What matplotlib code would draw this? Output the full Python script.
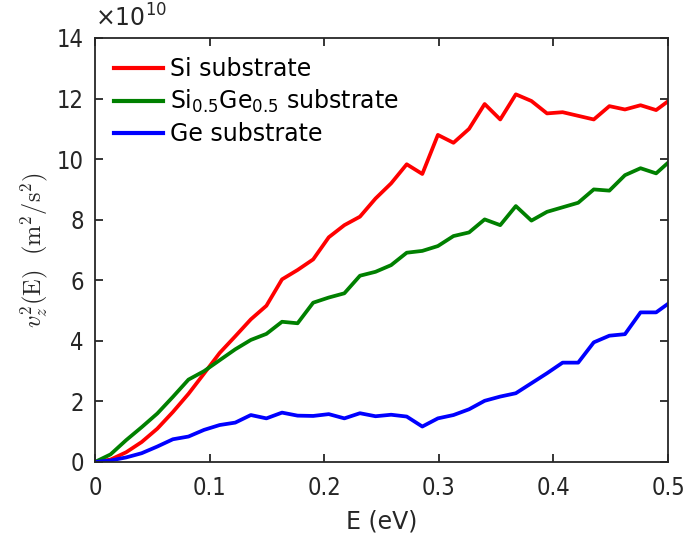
import numpy as np
import matplotlib
matplotlib.use('Agg')
import matplotlib.pyplot as plt

plt.rcParams['font.family'] = 'DejaVu Sans'
plt.rcParams['mathtext.fontset'] = 'dejavusans'

# energy grid (eV), data runs slightly past the plotted range
dE = 0.0136
E = np.arange(38) * dE

# v_z^2 in units of 1e10 m^2/s^2
v2_si = [0, 0.08, 0.32, 0.66, 1.1, 1.65, 2.25, 2.92, 3.6, 4.15, 4.71,
         5.16, 6.03, 6.34, 6.69, 7.42, 7.82, 8.10, 8.7, 9.2, 9.83,
         9.51, 10.80, 10.54, 11.0, 11.82, 11.31, 12.14, 11.92, 11.51, 11.55,
         11.43, 11.31, 11.75, 11.64, 11.78, 11.62, 12.0]
v2_sige = [0, 0.25, 0.72, 1.15, 1.6, 2.15, 2.72, 3.0, 3.36, 3.72, 4.03,
           4.23, 4.63, 4.58, 5.26, 5.43, 5.57, 6.15, 6.28, 6.5, 6.91,
           6.97, 7.13, 7.46, 7.58, 8.01, 7.82, 8.45, 7.97, 8.26, 8.41,
           8.56, 9.0, 8.96, 9.47, 9.70, 9.53, 9.99]
v2_ge = [0, 0.05, 0.15, 0.29, 0.51, 0.75, 0.84, 1.06, 1.22, 1.3, 1.55,
         1.44, 1.63, 1.53, 1.52, 1.58, 1.44, 1.61, 1.51, 1.56, 1.50,
         1.17, 1.44, 1.55, 1.74, 2.02, 2.16, 2.27, 2.60, 2.93, 3.28,
         3.28, 3.95, 4.17, 4.22, 4.94, 4.94, 5.31]

x_ticks = [0, 0.1, 0.2, 0.3, 0.4, 0.5]
x_ticklabels = ['0', '0.1', '0.2', '0.3', '0.4', '0.5']
y_ticks = [0, 2, 4, 6, 8, 10, 12, 14]

fig = plt.figure(figsize=(6.88, 5.39), dpi=100)
ax = fig.add_axes([0.138, 0.1429, 0.833, 0.7866])

lw = 2.7
ax.plot(E, v2_si, color=(1, 0, 0), lw=lw, label='Si substrate')
ax.plot(E, v2_sige, color=(0, 0.5, 0), lw=lw,
        label='Si$_{0.5}$Ge$_{0.5}$ substrate')
ax.plot(E, v2_ge, color=(0, 0, 1), lw=lw, label='Ge substrate')

ax.set_xlim(0, 0.5)
ax.set_ylim(0, 14)
ax.set_xticks(x_ticks)
ax.set_xticklabels(x_ticklabels)
ax.set_yticks(y_ticks)

dark = '#262626'
for sp in ax.spines.values():
    sp.set_color(dark)
    sp.set_linewidth(1.3)
ax.tick_params(direction='in', length=6, width=1.3, colors=dark,
               labelsize=17, top=True, right=True, pad=8)
ax.tick_params(axis='x', pad=10)
for lab in ax.get_xticklabels() + ax.get_yticklabels():
    lab.set_fontstretch('condensed')

# exponent shown above the y axis
ax.text(0.0, 1.015, r'$\times10^{10}$', transform=ax.transAxes,
        fontsize=17, color=dark, ha='left', va='bottom')

ax.set_xlabel('E (eV)', fontsize=17, color=dark, labelpad=7)
ax.set_ylabel(r'$v_z^2(\mathrm{E})\ \ (\mathrm{m}^2/\mathrm{s}^2)$', fontsize=17.5,
              color=dark, math_fontfamily='cm', labelpad=5)

leg = ax.legend(loc='upper left', frameon=False, fontsize=17, handlelength=2.1,
                handletextpad=0.3, labelspacing=0.3, borderaxespad=0.45,
                borderpad=0.35)
for line in leg.get_lines():
    line.set_linewidth(3.0)

fig.savefig('out.png', dpi=100)
